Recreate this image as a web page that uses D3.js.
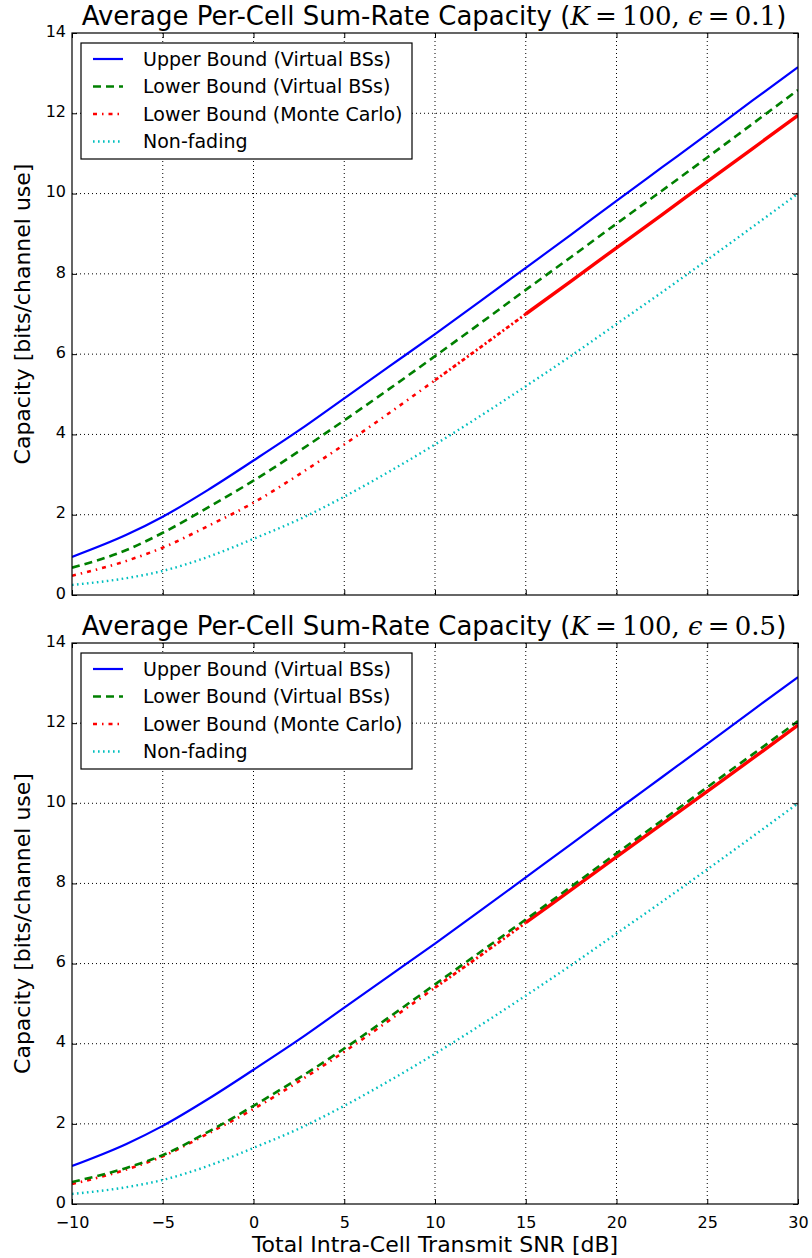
<!DOCTYPE html>
<html><head><meta charset="utf-8">
<script src="https://cdn.jsdelivr.net/npm/d3@7"></script>
<style>body{margin:0;background:#fff}svg{display:block}</style>
</head><body>
<svg id="c" width="812" height="1258"></svg>
<script>
// ---- data ----
const snr = [-10, -7, -5, -2.5, 0, 2.5, 5, 7.5, 10, 12.5, 15, 17.5, 20, 22.5, 25, 27.5, 30];
const upperVBS = [0.95, 1.5, 1.95, 2.62, 3.35, 4.1, 4.9, 5.7, 6.5, 7.32, 8.15, 8.98, 9.82, 10.65, 11.48, 12.32, 13.15];
const lowerVBS_e01 = [0.68, 1.12, 1.55, 2.18, 2.85, 3.58, 4.35, 5.14, 5.95, 6.77, 7.6, 8.42, 9.25, 10.07, 10.9, 11.74, 12.58];
const lowerMC_e01 = [0.48, 0.85, 1.18, 1.72, 2.3, 3.0, 3.75, 4.54, 5.35, 6.17, 7.0, 7.82, 8.65, 9.47, 10.3, 11.12, 11.95];
const nonFading = [0.25, 0.42, 0.6, 0.95, 1.4, 1.88, 2.45, 3.08, 3.75, 4.46, 5.2, 5.96, 6.75, 7.54, 8.35, 9.17, 10.0];
const lowerVBS_e05 = [0.55, 0.9, 1.22, 1.8, 2.45, 3.14, 3.88, 4.67, 5.48, 6.29, 7.1, 7.92, 8.75, 9.57, 10.4, 11.22, 12.05];
const lowerMC_e05 = [0.5, 0.86, 1.19, 1.76, 2.37, 3.06, 3.8, 4.59, 5.4, 6.2, 7.02, 7.84, 8.66, 9.48, 10.3, 11.12, 11.95];
const xTicks = [-10, -5, 0, 5, 10, 15, 20, 25, 30];
const yTicks = [0, 2, 4, 6, 8, 10, 12, 14];
const seriesNames = ["Upper Bound (Virtual BSs)", "Lower Bound (Virtual BSs)", "Lower Bound (Monte Carlo)", "Non-fading"];
const epsValues = ["0.1", "0.5"];

const styles = [
  {color: "#0000ff", dash: null, w: 2.2},
  {color: "#008000", dash: "8,5", w: 2.6},
  {color: "#ff0000", dash: "4,5,1.5,5", w: 2.6},
  {color: "#00bfbf", dash: "1.6,3.4", w: 2.4}
];

const svg = d3.select("#c");
const panels = [
  {top: 33, bottom: 595, series: [upperVBS, lowerVBS_e01, lowerMC_e01, nonFading], eps: epsValues[0]},
  {top: 643, bottom: 1204, series: [upperVBS, lowerVBS_e05, lowerMC_e05, nonFading], eps: epsValues[1]}
];
const left = 72, right = 798;
const x = d3.scaleLinear().domain([-10, 30]).range([left, right]);
const fmt = d => (d < 0 ? "\u2212" + Math.abs(d) : String(d));

panels.forEach((p, pi) => {
  const y = d3.scaleLinear().domain([0, 14]).range([p.bottom, p.top]);
  const g = svg.append("g");
  // grid
  g.append("g").selectAll("line").data(xTicks.slice(1, -1)).join("line")
    .attr("x1", d => x(d)).attr("x2", d => x(d)).attr("y1", p.top).attr("y2", p.bottom)
    .attr("stroke", "#000").attr("stroke-width", 1).attr("stroke-dasharray", "1,3");
  g.append("g").selectAll("line").data(yTicks.slice(1, -1)).join("line")
    .attr("y1", d => y(d)).attr("y2", d => y(d)).attr("x1", left).attr("x2", right)
    .attr("stroke", "#000").attr("stroke-width", 1).attr("stroke-dasharray", "1,3");

  // lines
  const clip = "clip" + pi;
  svg.append("clipPath").attr("id", clip).append("rect")
    .attr("x", left).attr("y", p.top).attr("width", right - left).attr("height", p.bottom - p.top);
  const lg = g.append("g").attr("clip-path", `url(#${clip})`);
  const line = d3.line().x(d => x(d[0])).y(d => y(d[1])).curve(d3.curveMonotoneX);
  const order = [3, 2, 1, 0];
  order.forEach(si => {
    const vals = p.series[si];
    const pts = snr.map((s, i) => [s, vals[i]]);
    const st = styles[si];
    if (si === 2) {
      // dense Monte Carlo samples make the dash-dot look denser, then solid, at high SNR
      lg.append("path").attr("d", line(pts.filter(d => d[0] <= 10)))
        .attr("fill", "none").attr("stroke", st.color).attr("stroke-width", st.w)
        .attr("stroke-dasharray", st.dash);
      lg.append("path").attr("d", line(pts.filter(d => d[0] >= 10 && d[0] <= 15)))
        .attr("fill", "none").attr("stroke", st.color).attr("stroke-width", 2.8)
        .attr("stroke-dasharray", "4,2.5,2,2.5");
      lg.append("path").attr("d", line(pts.filter(d => d[0] >= 15)))
        .attr("fill", "none").attr("stroke", st.color).attr("stroke-width", 3.4);
      return;
    }
    lg.append("path").attr("d", line(pts))
      .attr("fill", "none").attr("stroke", st.color).attr("stroke-width", st.w)
      .attr("stroke-dasharray", st.dash);
  });

  // axes frame
  g.append("rect").attr("x", left).attr("y", p.top).attr("width", right - left).attr("height", p.bottom - p.top)
    .attr("fill", "none").attr("stroke", "#000").attr("stroke-width", 1.2);

  // ticks inward, all sides
  const axB = d3.axisBottom(x).tickValues(xTicks).tickSizeInner(-5).tickSizeOuter(0).tickFormat(pi === 1 ? fmt : "");
  const axT = d3.axisTop(x).tickValues(xTicks).tickSizeInner(-5).tickSizeOuter(0).tickFormat("");
  const axL = d3.axisLeft(y).tickValues(yTicks).tickSizeInner(-5).tickSizeOuter(0).tickFormat(d3.format("d"));
  const axR = d3.axisRight(y).tickValues(yTicks).tickSizeInner(-5).tickSizeOuter(0).tickFormat("");
  const styleAx = sel => {
    sel.select(".domain").remove();
    sel.selectAll(".tick line").attr("stroke", "#000").attr("stroke-width", 1);
    sel.selectAll(".tick text").attr("fill", "#000").style("font-family", "DejaVu Sans").style("font-size", "16px");
  };
  g.append("g").attr("transform", `translate(0,${p.bottom})`).call(axB).call(styleAx)
    .selectAll(".tick text").attr("dy", "0.9em").attr("y", 10);
  g.append("g").attr("transform", `translate(0,${p.top})`).call(axT).call(styleAx);
  g.append("g").attr("transform", `translate(${left},0)`).call(axL).call(styleAx)
    .selectAll(".tick text").attr("x", -6).attr("dy", "0.2em");
  g.append("g").attr("transform", `translate(${right},0)`).call(axR).call(styleAx);

  // title
  const t = g.append("text").attr("x", (left + right) / 2 - 1).attr("y", p.top - 8)
    .attr("text-anchor", "middle").style("font-family", "DejaVu Sans").style("font-size", "26px").attr("fill", "#000");
  t.append("tspan").text("Average Per-Cell Sum-Rate Capacity (");
  t.append("tspan").style("font-family", "DejaVu Serif").style("font-style", "italic").text("K");
  t.append("tspan").style("font-family", "DejaVu Serif").text("\u2009=\u2009100, ");
  t.append("tspan").style("font-family", "DejaVu Serif").style("font-style", "italic").text("\u03f5");
  t.append("tspan").style("font-family", "DejaVu Serif").text("\u2009=\u2009" + p.eps);
  t.append("tspan").text(")");

  // y label
  g.append("text").attr("transform", `translate(30,${(p.top + p.bottom) / 2}) rotate(-90)`)
    .attr("text-anchor", "middle").style("font-family", "DejaVu Sans").style("font-size", "22px")
    .attr("fill", "#000").text("Capacity [bits/channel use]");

  // legend
  const lx = 81, ly = p.top + 10;
  const leg = g.append("g");
  leg.append("rect").attr("x", lx).attr("y", ly).attr("width", 331).attr("height", 116)
    .attr("fill", "#fff").attr("stroke", "#000").attr("stroke-width", 1.2);
  seriesNames.forEach((name, i) => {
    const yy = ly + 16 + i * 27.5;
    const st = styles[i];
    leg.append("line").attr("x1", lx + 12).attr("x2", lx + 42).attr("y1", yy).attr("y2", yy)
      .attr("stroke", st.color).attr("stroke-width", st.w).attr("stroke-dasharray", st.dash);
    leg.append("text").attr("x", lx + 62).attr("y", yy).attr("dy", "0.35em")
      .style("font-family", "DejaVu Sans").style("font-size", "19px").attr("fill", "#000").text(name);
  });
});

// x label
svg.append("text").attr("x", (left + right) / 2).attr("y", 1252).attr("text-anchor", "middle")
  .style("font-family", "DejaVu Sans").style("font-size", "22px").attr("fill", "#000")
  .text("Total Intra-Cell Transmit SNR [dB]");
</script>
</body></html>
